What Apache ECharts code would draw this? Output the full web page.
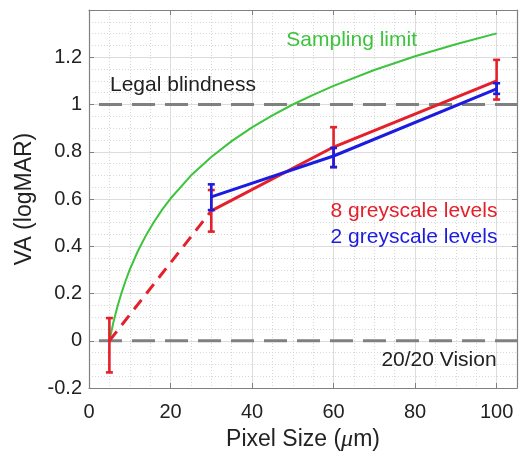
<!DOCTYPE html>
<html>
<head>
<meta charset="utf-8">
<script src="https://cdn.jsdelivr.net/npm/echarts@6/dist/echarts.min.js"></script>
<style>
html,body{margin:0;padding:0;background:#fff;}
#chart{width:519px;height:453px;}
</style>
</head>
<body>
<div id="chart"></div>
<script>
// ---- data ----
const xTicks = [0, 20, 40, 60, 80, 100];
const yTicks = [-0.2, 0, 0.2, 0.4, 0.6, 0.8, 1, 1.2];

// 8 greyscale levels (red)
const red8X    = [5, 30, 60, 100];
const red8Mean = [0, 0.55, 0.82, 1.10];
const red8Low  = [-0.134, 0.462, 0.735, 1.021];
const red8High = [0.096, 0.638, 0.904, 1.189];

// 2 greyscale levels (blue)
const blue2X    = [30, 60, 100];
const blue2Mean = [0.609, 0.782, 1.066];
const blue2Low  = [0.553, 0.735, 1.045];
const blue2High = [0.662, 0.816, 1.090];

// Sampling limit (green curve)
const samplingX = [5, 6, 7, 8, 9, 10, 12, 14, 16, 18, 20, 25, 30, 35, 40, 45, 50, 55, 60, 70, 80, 90, 100];
const samplingY = [0, 0.079, 0.146, 0.204, 0.255, 0.301, 0.380, 0.447, 0.505, 0.556, 0.602, 0.699, 0.778, 0.845, 0.903, 0.954, 1.0, 1.041, 1.079, 1.146, 1.204, 1.255, 1.301];

// reference levels
const legalBlindness = 1;
const normalVision = 0;

// annotations
const annotationTexts = ['Legal blindness', 'Sampling limit', '8 greyscale levels', '2 greyscale levels', '20/20 Vision'];
const annotationX = [5.15, 48.4, 100.2, 100.2, 100.0];
const annotationY = [1.08, 1.274, 0.55, 0.437, -0.083];

// ---- styles ----
const RED = '#e4202b', BLUE = '#1c1ce0', GREEN = '#3cc43c', GREY = '#808080', TXT = '#222222';
const FONT = '"Liberation Sans", Arial, sans-serif';
const annColors = [TXT, GREEN, RED, BLUE, TXT];
const annAlign = ['left', 'left', 'right', 'right', 'right'];

const X_MIN = 0, X_MAX = 105, Y_MIN = -0.2, Y_MAX = 1.4;

function errorBarSeries(xs, lo, hi, color, z) {
  return {
    type: 'custom',
    xAxisIndex: 0, yAxisIndex: 0,
    z: z,
    data: xs.map((x, i) => [x, lo[i], hi[i]]),
    renderItem: function (params, api) {
      const x = api.value(0);
      const pLo = api.coord([x, api.value(1)]);
      const pHi = api.coord([x, api.value(2)]);
      const hw = 3.5;
      const st = { stroke: color, lineWidth: 2.6 };
      return {
        type: 'group',
        children: [
          { type: 'line', shape: { x1: pLo[0], y1: pLo[1], x2: pHi[0], y2: pHi[1] }, style: st },
          { type: 'line', shape: { x1: pLo[0] - hw, y1: pLo[1], x2: pLo[0] + hw, y2: pLo[1] }, style: st },
          { type: 'line', shape: { x1: pHi[0] - hw, y1: pHi[1], x2: pHi[0] + hw, y2: pHi[1] }, style: st }
        ]
      };
    }
  };
}

const labelStyle = { color: TXT, fontSize: 20, fontFamily: FONT };

const option = {
  backgroundColor: '#fff',
  animation: false,
  grid: { left: 89, top: 10, right: 2, bottom: 65, containLabel: false, outerBoundsMode: 'none' },
  xAxis: [
    {
      type: 'value', position: 'bottom', min: X_MIN, max: X_MAX, interval: 20,
      name: 'Pixel Size ({i|μ}m)', nameLocation: 'middle', nameGap: 40,
      nameTextStyle: { color: TXT, fontSize: 23, fontFamily: FONT,
        rich: { i: { fontStyle: 'italic', fontFamily: '"Liberation Serif", "DejaVu Serif", serif', fontSize: 24, color: TXT } } },
      axisLine: { show: true, onZero: false, lineStyle: { color: GREY, width: 1.2 } },
      axisTick: { show: true, inside: true, length: 5, lineStyle: { color: GREY } },
      axisLabel: { ...labelStyle, margin: 14, formatter: v => (xTicks.indexOf(v) >= 0 ? String(v) : '') },
      splitLine: { show: true, lineStyle: { color: '#dedede', width: 1 } }
    },
    {
      type: 'value', position: 'top', min: X_MIN, max: X_MAX, interval: 20,
      axisLine: { show: true, onZero: false, lineStyle: { color: GREY, width: 1.2 } },
      axisTick: { show: true, inside: true, length: 5, lineStyle: { color: GREY } },
      axisLabel: { show: false }, splitLine: { show: false }
    },
    {
      type: 'value', position: 'bottom', min: X_MIN, max: X_MAX, interval: 5,
      axisLine: { show: false }, axisTick: { show: false }, axisLabel: { show: false },
      splitLine: { show: true, lineStyle: { color: '#d8d8d8', width: 1, type: [1, 2] } }
    }
  ],
  yAxis: [
    {
      type: 'value', position: 'left', min: Y_MIN, max: Y_MAX, interval: 0.2,
      name: 'VA (logMAR)', nameLocation: 'middle', nameGap: 50,
      nameTextStyle: { color: TXT, fontSize: 23, fontFamily: FONT },
      axisLine: { show: true, onZero: false, lineStyle: { color: GREY, width: 1.2 } },
      axisTick: { show: true, inside: true, length: 5, lineStyle: { color: GREY } },
      axisLabel: { ...labelStyle, margin: 7, formatter: function (v) {
        const r = Math.round(v * 10) / 10;
        return yTicks.indexOf(r) >= 0 ? String(r) : '';
      } },
      splitLine: { show: true, lineStyle: { color: '#dedede', width: 1 } }
    },
    {
      type: 'value', position: 'right', min: Y_MIN, max: Y_MAX, interval: 0.2,
      axisLine: { show: true, onZero: false, lineStyle: { color: GREY, width: 1.2 } },
      axisTick: { show: true, inside: true, length: 5, lineStyle: { color: GREY } },
      axisLabel: { show: false }, splitLine: { show: false }
    },
    {
      type: 'value', position: 'left', min: Y_MIN, max: Y_MAX, interval: 0.05,
      axisLine: { show: false }, axisTick: { show: false }, axisLabel: { show: false },
      splitLine: { show: true, lineStyle: { color: '#d8d8d8', width: 1, type: [1, 2] } }
    }
  ],
  series: [
    // reference dashed lines
    {
      type: 'line', xAxisIndex: 0, yAxisIndex: 0, z: 3, symbol: 'none', silent: true,
      data: [[X_MIN, legalBlindness], [X_MAX, legalBlindness]],
      lineStyle: { color: GREY, width: 3, type: [23, 10], dashOffset: 23 }
    },
    {
      type: 'line', xAxisIndex: 0, yAxisIndex: 0, z: 3, symbol: 'none', silent: true,
      data: [[X_MIN, normalVision], [X_MAX, normalVision]],
      lineStyle: { color: GREY, width: 3, type: [23, 10], dashOffset: 23 }
    },
    // sampling limit
    {
      type: 'line', xAxisIndex: 0, yAxisIndex: 0, z: 4, symbol: 'none', smooth: false,
      data: samplingX.map((x, i) => [x, samplingY[i]]),
      lineStyle: { color: GREEN, width: 2 }
    },
    // red dashed extrapolation (first two points)
    {
      type: 'line', xAxisIndex: 0, yAxisIndex: 0, z: 5, symbol: 'none',
      data: red8X.slice(0, 2).map((x, i) => [x, red8Mean[i]]),
      lineStyle: { color: RED, width: 3, type: [12, 8] }
    },
    // red solid
    {
      type: 'line', xAxisIndex: 0, yAxisIndex: 0, z: 5, symbol: 'none',
      data: red8X.slice(1).map((x, i) => [x, red8Mean[i + 1]]),
      lineStyle: { color: RED, width: 3 }
    },
    errorBarSeries(red8X, red8Low, red8High, RED, 6),
    // blue solid
    {
      type: 'line', xAxisIndex: 0, yAxisIndex: 0, z: 7, symbol: 'none',
      data: blue2X.map((x, i) => [x, blue2Mean[i]]),
      lineStyle: { color: BLUE, width: 3 }
    },
    errorBarSeries(blue2X, blue2Low, blue2High, BLUE, 8),
    // annotations
    {
      type: 'scatter', xAxisIndex: 0, yAxisIndex: 0, z: 10, symbolSize: 0, silent: true,
      itemStyle: { opacity: 0 },
      data: annotationTexts.map((t, i) => ({
        value: [annotationX[i], annotationY[i]],
        name: t,
        label: {
          show: true, position: [0, 0], formatter: t,
          align: annAlign[i], verticalAlign: 'middle',
          color: annColors[i], fontSize: 21, fontFamily: FONT,
          textBorderWidth: 0, textBorderColor: 'transparent', opacity: 1
        }
      }))
    }
  ]
};

const chart = echarts.init(document.getElementById('chart'), null, { renderer: 'canvas' });
chart.setOption(option);
</script>
</body>
</html>
